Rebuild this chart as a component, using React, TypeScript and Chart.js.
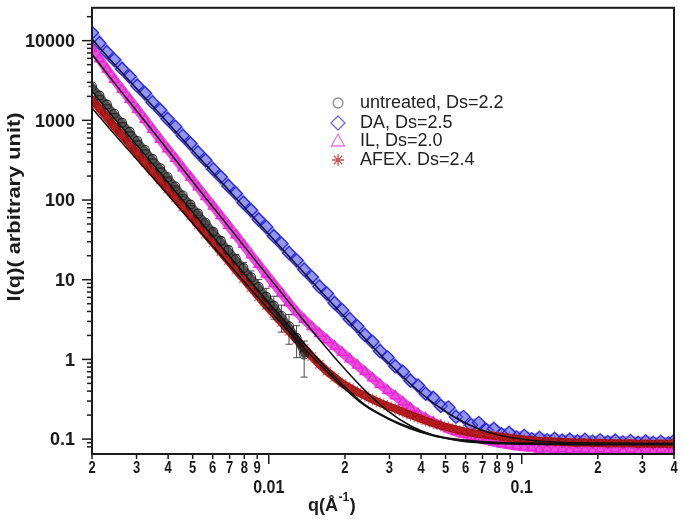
import React, { useEffect, useRef } from 'react'
import { Chart, registerables } from 'chart.js'

Chart.register(...registerables)

const FONT = '"Liberation Sans", Arial, Helvetica, sans-serif'
const INK = '#1a1a1a'

// q (Å^-1) grid of the measured curves
const qData = [
  0.002, 0.00214, 0.00229, 0.00245, 0.00263, 0.00282, 0.00302, 0.00324, 0.00347, 0.00372,
  0.00398, 0.00427, 0.00457, 0.0049, 0.00525, 0.00562, 0.00603, 0.00646, 0.00692, 0.00741,
  0.00794, 0.00851, 0.00912, 0.00977, 0.01047, 0.01122, 0.01202, 0.01288, 0.0138, 0.01479,
  0.01585, 0.01698, 0.0182, 0.0195, 0.02089, 0.02239, 0.02399, 0.0257, 0.02754, 0.02951,
  0.03162, 0.03388, 0.03631, 0.0389, 0.04169, 0.04467, 0.04786, 0.05129, 0.05495, 0.05888,
  0.0631, 0.06761, 0.07244, 0.07762, 0.08318, 0.08913, 0.0955, 0.1023, 0.1096, 0.1175,
  0.1259, 0.1349, 0.1445, 0.1549, 0.166, 0.1778, 0.1905, 0.2042, 0.2188, 0.2344,
  0.2512, 0.2692, 0.2884, 0.309, 0.3311, 0.3548, 0.3802, 0.395,
]

// untreated stops at q ~ 0.014, error bars grow towards the end
const untreatedI = [
  2661, 2046, 1574, 1211, 931, 716, 551, 424, 326, 251,
  193, 148, 114, 87.7, 67.5, 51.9, 39.9, 30.7, 23.6, 18.2,
  14.0, 10.7, 8.1, 6.1, 4.7, 3.5, 2.6, 1.85, 1.15,
]
const untreatedErr = [
  20, 15, 12, 9, 7, 6, 5, 4, 4, 3,
  3, 3, 3, 3, 3, 3, 3.2, 3, 2.8, 2.5,
  2.4, 2.2, 2.0, 1.7, 1.5, 1.3, 1.05, 0.8, 0.55,
]

const daI = [
  12600, 9300, 7150, 5750, 4420, 3550, 2720, 2190, 1680, 1350,
  1040, 830, 640, 512, 395, 316, 243, 195, 150, 121,
  92.5, 74.5, 57, 46, 35.2, 28.4, 21.6, 17.5, 13.4, 10.8,
  8.2, 6.7, 5.1, 4.15, 3.2, 2.6, 2.02, 1.66, 1.27, 1.06,
  0.82, 0.7, 0.54, 0.47, 0.37, 0.33, 0.26, 0.25, 0.19, 0.19,
  0.15, 0.16, 0.13, 0.135, 0.115, 0.12, 0.105, 0.11, 0.1, 0.104,
  0.097, 0.101, 0.096, 0.099, 0.094, 0.098, 0.093, 0.097, 0.092, 0.096,
  0.091, 0.095, 0.09, 0.094, 0.09, 0.093, 0.089, 0.092,
]

const ilI = [
  7940, 5890, 4365, 3236, 2427, 1820, 1365, 1023, 767, 575,
  437, 331, 251, 191, 145, 110, 83.2, 63.1, 47.9, 36.3,
  27.5, 20.4, 15.5, 11.7, 8.9, 6.76, 5.13, 3.94, 3.16, 2.57,
  2.11, 1.76, 1.46, 1.22, 1.01, 0.841, 0.7, 0.582, 0.484, 0.407,
  0.347, 0.292, 0.245, 0.209, 0.184, 0.164, 0.148, 0.133, 0.123, 0.115,
  0.107, 0.101, 0.0955, 0.0912, 0.0871, 0.0841, 0.0813, 0.0794, 0.078, 0.075,
  0.077, 0.074, 0.076, 0.073, 0.076, 0.074, 0.072, 0.075, 0.073, 0.076,
  0.072, 0.074, 0.071, 0.075, 0.072, 0.074, 0.071, 0.073,
]

const afexI = [
  1828, 1412, 1089, 841, 649, 501, 386, 298, 230, 178,
  137, 106, 81.7, 63.1, 48.6, 37.6, 29.0, 22.4, 17.3, 13.3,
  10.3, 7.94, 6.12, 4.73, 3.74, 2.91, 2.26, 1.77, 1.38, 1.09,
  0.87, 0.71, 0.595, 0.5, 0.44, 0.39, 0.35, 0.315, 0.285, 0.26,
  0.24, 0.22, 0.2, 0.185, 0.17, 0.158, 0.148, 0.14, 0.132, 0.126,
  0.12, 0.116, 0.113, 0.11, 0.107, 0.104, 0.101, 0.099, 0.097, 0.095,
  0.094, 0.093, 0.092, 0.091, 0.09, 0.091, 0.089, 0.09, 0.088, 0.089,
  0.088, 0.089, 0.087, 0.088, 0.087, 0.088, 0.087, 0.088,
]

// fitted curves (black lines)
const qFit = [
  0.002, 0.00245, 0.00302, 0.00372, 0.00457, 0.00562, 0.00692, 0.00851, 0.01047, 0.01288,
  0.01585, 0.0195, 0.02399, 0.02951, 0.03631, 0.04467, 0.05495, 0.06761, 0.08318, 0.1023,
  0.1259, 0.1549, 0.1905, 0.2344, 0.2884, 0.3548, 0.395,
]
const untreatedFit = [
  2312, 1052, 479, 218, 99.1, 45.1, 20.5, 9.4, 4.34, 2.02,
  0.967, 0.488, 0.27, 0.185, 0.14, 0.113, 0.1, 0.094, 0.0905, 0.0892,
  0.0886, 0.0883, 0.0882, 0.0881, 0.088, 0.088, 0.088,
]
const daFit = [
  10470, 5070, 2455, 1189, 575, 279, 135, 65.3, 31.7, 15.4,
  7.5, 3.68, 1.83, 0.929, 0.495, 0.285, 0.184, 0.134, 0.11, 0.099,
  0.093, 0.0905, 0.0892, 0.0886, 0.0883, 0.0881, 0.088,
]
const ilFit = [
  6760, 2951, 1288, 562, 245, 107, 46.9, 20.5, 9.0, 3.98,
  1.78, 0.826, 0.409, 0.226, 0.147, 0.112, 0.097, 0.09, 0.0872, 0.086,
  0.0854, 0.0852, 0.0851, 0.085, 0.085, 0.085, 0.085,
]
const afexFit = [
  1426, 673, 318, 150, 71, 33.5, 15.9, 7.55, 3.62, 1.75,
  0.874, 0.459, 0.262, 0.18, 0.135, 0.11, 0.098, 0.091, 0.089, 0.088,
  0.0875, 0.0872, 0.087, 0.087, 0.087, 0.087, 0.087,
]

const legendLabels = ['untreated, Ds=2.2', 'DA, Ds=2.5', 'IL, Ds=2.0', 'AFEX. Ds=2.4']
const legendSymbols = ['circle', 'diamond', 'triangle', 'star']
const legendColors = ['#8e8e8e', '#6d6dd9', '#e27ad6', '#c85454']

const xTitle = 'q(Å'
const xTitleSup = '-1'
const yTitle = 'I(q)( arbitrary unit)'

const toPoints = (xs: number[], ys: number[]) => ys.map((y, i) => ({ x: xs[i], y }))

function splitLog(v: number) {
  const e = Math.floor(Math.log10(v) + 1e-9)
  const m = v / Math.pow(10, e)
  return { e, m, d: Math.round(m) }
}

function label(ctx: CanvasRenderingContext2D, text: string, x: number, y: number, size: number,
  weight: string, align: CanvasTextAlign, sy = 1) {
  ctx.save()
  ctx.translate(x, y)
  ctx.scale(1, sy)
  ctx.font = `${weight} ${size}px ${FONT}`
  ctx.textAlign = align
  ctx.textBaseline = 'middle'
  ctx.fillText(text, 0, 0)
  ctx.restore()
}

const errorBars = {
  id: 'errorBars',
  afterDatasetDraw(chart: any, args: any) {
    if (args.index !== 0) return
    const { ctx } = chart
    const xs = chart.scales.x, ys = chart.scales.y
    ctx.save()
    ctx.strokeStyle = 'rgba(45,45,45,0.85)'
    ctx.lineWidth = 1
    untreatedI.forEach((v, i) => {
      const px = xs.getPixelForValue(qData[i])
      const hi = ys.getPixelForValue(v + untreatedErr[i])
      const lo = ys.getPixelForValue(v - untreatedErr[i])
      ctx.beginPath()
      ctx.moveTo(px, hi); ctx.lineTo(px, lo)
      ctx.moveTo(px - 3.5, hi); ctx.lineTo(px + 3.5, hi)
      ctx.moveTo(px - 3.5, lo); ctx.lineTo(px + 3.5, lo)
      ctx.stroke()
    })
    ctx.restore()
  },
}

const axesAndLegend = {
  id: 'axesAndLegend',
  afterDraw(chart: any) {
    const { ctx, chartArea: a } = chart
    const xs = chart.scales.x, ys = chart.scales.y
    ctx.save()
    ctx.strokeStyle = INK
    ctx.fillStyle = INK
    ctx.lineWidth = 2
    ctx.strokeRect(a.left, a.top, a.right - a.left, a.bottom - a.top)

    ctx.lineWidth = 1.5
    xs.ticks.forEach((t: any) => {
      const { m, d } = splitLog(t.value)
      if (Math.abs(m - d) > 0.02) return
      const px = xs.getPixelForValue(t.value)
      const len = d === 1 ? 10 : 5
      ctx.beginPath(); ctx.moveTo(px, a.bottom); ctx.lineTo(px, a.bottom + len); ctx.stroke()
      if (d === 1) label(ctx, String(Number(t.value.toPrecision(1))), px, 488, 16, 'bold', 'center', 1.15)
      else label(ctx, String(d), px, 469, 13, 'bold', 'center', 1.2)
    })
    ys.ticks.forEach((t: any) => {
      const { m, d } = splitLog(t.value)
      if (Math.abs(m - d) > 0.02) return
      const py = ys.getPixelForValue(t.value)
      const len = d === 1 ? 10 : 5
      ctx.beginPath(); ctx.moveTo(a.left, py); ctx.lineTo(a.left - len, py); ctx.stroke()
      if (d === 1) label(ctx, String(Number(t.value.toPrecision(1))), a.left - 17, py + 1, 18, 'bold', 'right', 1.05)
    })

    // axis titles
    ctx.save()
    ctx.translate(15, 207)
    ctx.rotate(-Math.PI / 2)
    ctx.font = `bold 18px ${FONT}`
    const w = ctx.measureText(yTitle).width
    ctx.scale(189 / w, 1)
    ctx.textAlign = 'center'
    ctx.textBaseline = 'middle'
    ctx.fillText(yTitle, 0, 0)
    ctx.restore()

    ctx.font = `bold 18px ${FONT}`
    const x0 = 308
    ctx.textAlign = 'left'
    ctx.textBaseline = 'middle'
    ctx.fillText(xTitle, x0, 506)
    let x1 = x0 + ctx.measureText(xTitle).width
    ctx.font = `bold 12px ${FONT}`
    ctx.fillText(xTitleSup, x1 + 0.5, 498)
    x1 += ctx.measureText(xTitleSup).width + 1
    ctx.font = `bold 18px ${FONT}`
    ctx.fillText(')', x1, 506)

    // legend
    const rows = [103, 123, 141, 160]
    legendLabels.forEach((txt, i) => {
      const cx = 338, cy = rows[i]
      ctx.strokeStyle = legendColors[i]
      ctx.lineWidth = 1.3
      ctx.beginPath()
      const s = legendSymbols[i]
      if (s === 'circle') ctx.arc(cx, cy, 5, 0, Math.PI * 2)
      else if (s === 'diamond') {
        ctx.moveTo(cx, cy - 7); ctx.lineTo(cx + 7, cy); ctx.lineTo(cx, cy + 7); ctx.lineTo(cx - 7, cy); ctx.closePath()
      } else if (s === 'triangle') {
        ctx.moveTo(cx, cy - 7); ctx.lineTo(cx + 6.5, cy + 5); ctx.lineTo(cx - 6.5, cy + 5); ctx.closePath()
      } else {
        for (let k = 0; k < 4; k++) {
          const ang = (k * Math.PI) / 4
          ctx.moveTo(cx - 6 * Math.cos(ang), cy - 6 * Math.sin(ang))
          ctx.lineTo(cx + 6 * Math.cos(ang), cy + 6 * Math.sin(ang))
        }
      }
      ctx.stroke()
      ctx.fillStyle = '#222'
      label(ctx, txt, 360, cy, 18, 'normal', 'left', 1.05)
    })
    ctx.restore()
  },
}

function fitLine(data: number[]) {
  return {
    data: toPoints(qFit, data),
    showLine: true,
    pointRadius: 0,
    borderColor: '#111',
    borderWidth: 1.5,
    cubicInterpolationMode: 'monotone' as const,
    order: 0,
  }
}

// thick translucent trace under the markers, so the dense data read as a band
function band(xs: number[], ys: number[], color: string, width: number, order: number) {
  return {
    data: toPoints(xs, ys),
    showLine: true,
    pointRadius: 0,
    borderColor: color,
    borderWidth: width,
    borderJoinStyle: 'round' as const,
    borderCapStyle: 'round' as const,
    order,
  }
}

export default function App() {
  const canvasRef = useRef<HTMLCanvasElement>(null)

  useEffect(() => {
    if (!canvasRef.current) return
    const chart = new Chart(canvasRef.current, {
      type: 'scatter',
      data: {
        datasets: [
          {
            label: 'untreated',
            data: toPoints(qData, untreatedI),
            pointStyle: 'circle',
            pointRadius: 4.5,
            borderColor: 'rgba(20,20,20,0.85)',
            backgroundColor: 'rgba(0,0,0,0)',
            borderWidth: 1.1,
            order: 1,
          },
          {
            label: 'AFEX',
            data: toPoints(qData, afexI),
            pointStyle: 'star',
            pointRadius: 6,
            borderColor: 'rgba(205,40,40,0.6)',
            backgroundColor: 'rgba(205,40,40,0.6)',
            borderWidth: 1.3,
            order: 3,
          },
          {
            label: 'IL',
            data: toPoints(qData, ilI),
            pointStyle: 'triangle',
            pointRadius: 5.5,
            borderColor: 'rgba(235,30,215,0.9)',
            backgroundColor: 'rgba(235,70,220,0.35)',
            borderWidth: 1.3,
            order: 5,
          },
          {
            label: 'DA',
            data: toPoints(qData, daI),
            pointStyle: 'rectRot',
            pointRadius: 6.5,
            borderColor: 'rgba(30,30,215,0.9)',
            backgroundColor: 'rgba(130,130,250,0.2)',
            borderWidth: 1.3,
            order: 7,
          },
          band(qData, untreatedI, 'rgba(25,25,25,0.75)', 7, 2),
          band(qData, afexI, 'rgba(145,0,0,0.92)', 8, 4),
          band(qData, ilI, 'rgba(228,35,210,0.8)', 9, 6),
          band(qData, daI, 'rgba(70,70,225,0.55)', 11, 8),
          fitLine(untreatedFit),
          fitLine(afexFit),
          fitLine(ilFit),
          fitLine(daFit),
        ],
      },
      options: {
        responsive: false,
        animation: false,
        events: [],
        layout: { padding: { top: 6, right: 12, left: 0, bottom: 0 } },
        plugins: { legend: { display: false }, tooltip: { enabled: false } },
        scales: {
          x: {
            type: 'logarithmic',
            min: 0.002,
            max: 0.4,
            grid: { display: false },
            border: { display: false },
            ticks: { display: false },
            afterFit: (s: any) => { s.height = 65 },
          },
          y: {
            type: 'logarithmic',
            min: 0.065,
            max: 25850,
            grid: { display: false },
            border: { display: false },
            ticks: { display: false },
            afterFit: (s: any) => { s.width = 92 },
          },
        },
      },
      plugins: [errorBars, axesAndLegend],
    })
    return () => chart.destroy()
  }, [])

  return (
    <div style={{ position: 'absolute', left: 0, top: 0, width: 686, height: 519, background: '#fff' }}>
      <canvas ref={canvasRef} width={686} height={519} />
    </div>
  )
}
